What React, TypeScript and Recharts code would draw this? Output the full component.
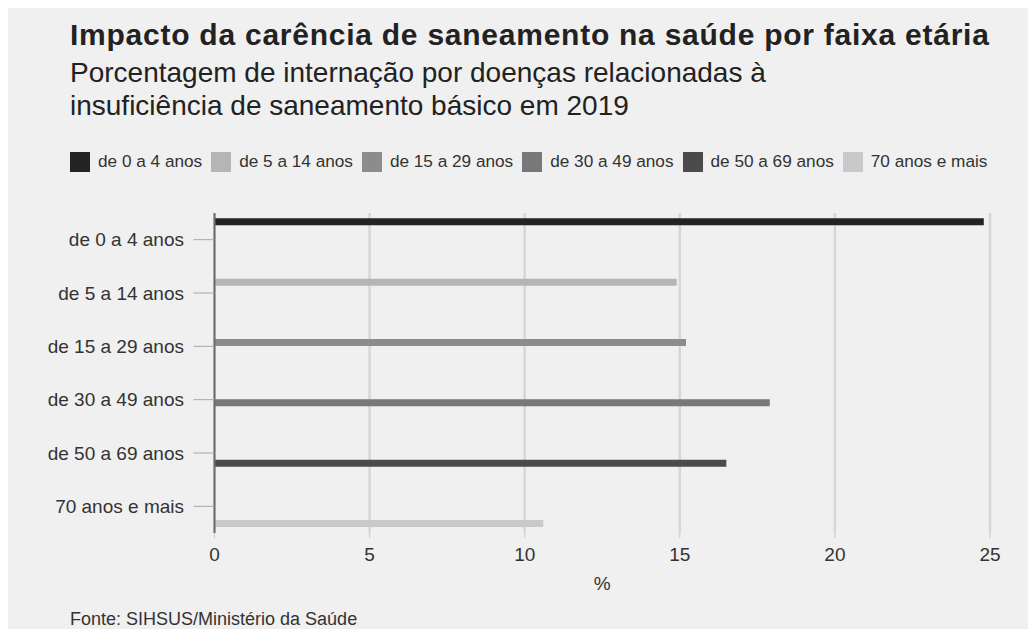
import React from 'react';
import { BarChart, Bar, XAxis, YAxis, CartesianGrid } from 'recharts';

const categories = [
  'de 0 a 4 anos',
  'de 5 a 14 anos',
  'de 15 a 29 anos',
  'de 30 a 49 anos',
  'de 50 a 69 anos',
  '70 anos e mais',
];

const seriesKeys = ['s0', 's1', 's2', 's3', 's4', 's5'];
const seriesColors = ['#232323', '#b5b5b7', '#8c8c8e', '#78787a', '#4b4b4d', '#c9c9cb'];
const values = [24.8, 14.9, 15.2, 17.9, 16.5, 10.6];
const xTicks = [0, 5, 10, 15, 20, 25];

// each age group only has a value in its own series
const chartData = categories.map((name, i) => {
  const row: any = { name };
  seriesKeys.forEach((k, j) => {
    row[k] = j === i ? values[i] : null;
  });
  return row;
});

const font = '"Liberation Sans", Arial, sans-serif';

export default function App() {
  return (
    <div
      style={{
        position: 'relative',
        width: 1028,
        height: 621,
        background: '#f0f0f0',
        overflow: 'hidden',
        fontFamily: font,
        color: '#222',
      }}
    >
      <div style={{ position: 'absolute', left: 62, top: 11.6, fontSize: 30, letterSpacing: 0.75, lineHeight: 1, fontWeight: 'bold', whiteSpace: 'nowrap' }}>
        Impacto da carência de saneamento na saúde por faixa etária
      </div>
      <div style={{ position: 'absolute', left: 62, top: 47.8, fontSize: 28, lineHeight: '33px' }}>
        Porcentagem de internação por doenças relacionadas à
        <br />
        insuficiência de saneamento básico em 2019
      </div>

      <div style={{ position: 'absolute', left: 62, top: 143.5, height: 20, display: 'flex', alignItems: 'center', fontSize: 17.2, color: '#333', whiteSpace: 'nowrap' }}>
        {categories.map((c, i) => (
          <div key={c} style={{ display: 'flex', alignItems: 'center', marginRight: 9 }}>
            <span style={{ width: 20, height: 20, background: seriesColors[i], marginRight: 8, display: 'inline-block' }} />
            <span>{c}</span>
          </div>
        ))}
      </div>

      <div style={{ position: 'absolute', left: 0, top: 190 }}>
        <BarChart
          width={1028}
          height={410}
          data={chartData}
          layout="vertical"
          margin={{ top: 15, right: 46, bottom: 15, left: 0 }}
          barCategoryGap="10%"
          barGap={0}
        >
          <CartesianGrid horizontal={false} stroke="#d6d6d6" strokeWidth={2.5} />
          <XAxis
            type="number"
            domain={[0, 25]}
            ticks={xTicks}
            height={60}
            axisLine={false}
            tickSize={5}
            tickMargin={10}
            tickLine={{ stroke: '#c8c8c8' }}
            tick={{ fill: '#333', fontSize: 19, fontFamily: font }}
            label={{ value: '%', position: 'insideBottom', offset: 3, fill: '#333', fontSize: 19, fontFamily: font }}
          />
          <YAxis
            type="category"
            dataKey="name"
            width={206.5}
            axisLine={{ stroke: '#6b6b6b', strokeWidth: 2 }}
            tickSize={21}
            tickMargin={9.5}
            tickLine={{ stroke: '#a8a8a8' }}
            tick={{ fill: '#333', fontSize: 19, fontFamily: font }}
          />
          {seriesKeys.map((k, i) => (
            <Bar key={k} dataKey={k} name={categories[i]} fill={seriesColors[i]} isAnimationActive={false} />
          ))}
        </BarChart>
      </div>

      <div style={{ position: 'absolute', left: 62, top: 601.5, fontSize: 18, lineHeight: 1, color: '#333', whiteSpace: 'nowrap' }}>
        Fonte: SIHSUS/Ministério da Saúde
      </div>
    </div>
  );
}
